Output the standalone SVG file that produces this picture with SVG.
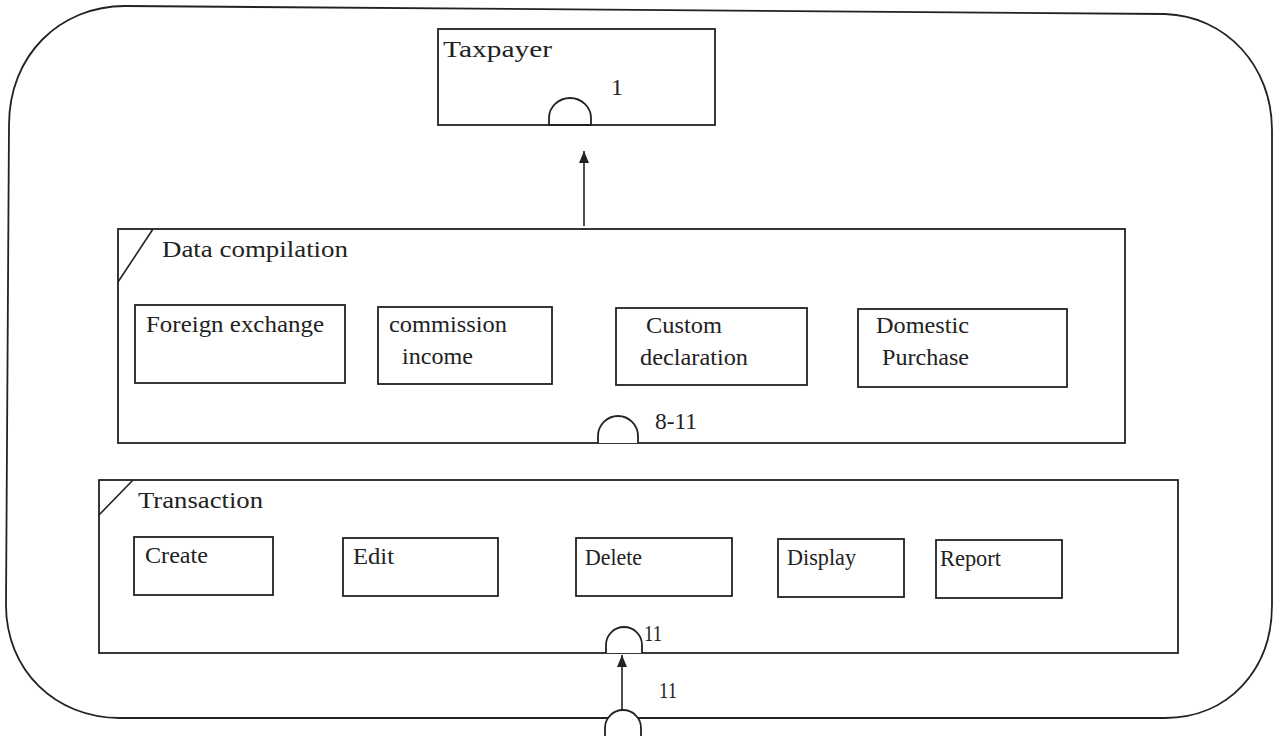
<svg xmlns="http://www.w3.org/2000/svg" width="1281" height="736" viewBox="0 0 1281 736">
  <style>
    .frame { fill: none; stroke: #222; stroke-width: 1.8; }
    .box { fill: #fff; stroke: #222; stroke-width: 1.8; }
    .cup { fill: #fff; stroke: #222; stroke-width: 1.8; }
    .wire { fill: none; stroke: #222; stroke-width: 1.6; }
    text { font-family: "Liberation Serif", "Times New Roman", serif; font-size: 24px; fill: #222; }
  </style>
  <defs>
    <marker id="head" viewBox="0 0 12 10" refX="12" refY="5" markerWidth="12" markerHeight="10" markerUnits="userSpaceOnUse" orient="auto">
      <path d="M0,0 L12,5 L0,10 Z" fill="#222"/>
    </marker>
  </defs>

  <!-- outer system boundary -->
  <path id="system" class="frame" d="M 9,125 C 9,55 60,6 125,6 L 1165,14 C 1226,16 1272,66 1272,130 L 1272,605 C 1272,670 1228,718 1165,718 L 120,718 C 55,718 6,670 6,605 Z"/>

  <!-- Taxpayer -->
  <g id="taxpayer">
    <rect class="box" x="438" y="29" width="277" height="96"/>
    <path class="cup" d="M549,125 L549,118 A21,20 0 0 1 591,118 L591,125 Z"/>
    <text x="443" y="57" textLength="109" lengthAdjust="spacingAndGlyphs">Taxpayer</text>
    <text x="611" y="95">1</text>
  </g>

  <!-- Data compilation -->
  <g id="data-compilation">
    <rect class="box" x="118" y="229" width="1007" height="214"/>
    <line class="wire" x1="153" y1="229" x2="118" y2="282"/>
    <text x="162" y="257" textLength="186" lengthAdjust="spacingAndGlyphs">Data compilation</text>
    <path class="cup" d="M598,443 L598,436 A20,20 0 0 1 638,436 L638,443"/>
    <text x="655" y="429" textLength="42" lengthAdjust="spacingAndGlyphs">8-11</text>
  </g>
  <g id="foreign-exchange">
    <rect class="box" x="135" y="305" width="210" height="78"/>
    <text x="146" y="332" textLength="178" lengthAdjust="spacingAndGlyphs">Foreign exchange</text>
  </g>
  <g id="commission-income">
    <rect class="box" x="378" y="307" width="174" height="77"/>
    <text x="389" y="332" textLength="118" lengthAdjust="spacingAndGlyphs">commission</text>
    <text x="402" y="364" textLength="71" lengthAdjust="spacingAndGlyphs">income</text>
  </g>
  <g id="custom-declaration">
    <rect class="box" x="616" y="308" width="191" height="77"/>
    <text x="646" y="333" textLength="76" lengthAdjust="spacingAndGlyphs">Custom</text>
    <text x="640" y="365" textLength="108" lengthAdjust="spacingAndGlyphs">declaration</text>
  </g>
  <g id="domestic-purchase">
    <rect class="box" x="858" y="309" width="209" height="78"/>
    <text x="876" y="333" textLength="93" lengthAdjust="spacingAndGlyphs">Domestic</text>
    <text x="882" y="365" textLength="87" lengthAdjust="spacingAndGlyphs">Purchase</text>
  </g>

  <!-- Transaction -->
  <g id="transaction">
    <rect class="box" x="99" y="480" width="1079" height="173"/>
    <line class="wire" x1="133" y1="480" x2="99" y2="515"/>
    <text x="138" y="508" textLength="125" lengthAdjust="spacingAndGlyphs">Transaction</text>
    <path class="cup" d="M606,653 L606,645 A18,18 0 0 1 642,645 L642,653"/>
    <text x="644" y="641" textLength="18" lengthAdjust="spacingAndGlyphs">11</text>
  </g>
  <g id="create">
    <rect class="box" x="134" y="537" width="139" height="58"/>
    <text x="145" y="563" textLength="63" lengthAdjust="spacingAndGlyphs">Create</text>
  </g>
  <g id="edit">
    <rect class="box" x="343" y="538" width="155" height="58"/>
    <text x="353" y="564" textLength="41" lengthAdjust="spacingAndGlyphs">Edit</text>
  </g>
  <g id="delete">
    <rect class="box" x="576" y="538" width="156" height="58"/>
    <text x="585" y="565" textLength="57" lengthAdjust="spacingAndGlyphs">Delete</text>
  </g>
  <g id="display">
    <rect class="box" x="778" y="539" width="126" height="58"/>
    <text x="787" y="565" textLength="69" lengthAdjust="spacingAndGlyphs">Display</text>
  </g>
  <g id="report">
    <rect class="box" x="936" y="540" width="126" height="58"/>
    <text x="940" y="566" textLength="61" lengthAdjust="spacingAndGlyphs">Report</text>
  </g>

  <!-- entry port on the system boundary -->
  <g id="entry-port">
    <path class="cup" d="M605,740 L605,728 A18,18 0 0 1 641,728 L641,740"/>
    <text x="659" y="698" textLength="18" lengthAdjust="spacingAndGlyphs">11</text>
  </g>

  <!-- connectors -->
  <g id="connectors">
    <line class="wire" x1="584" y1="226" x2="584" y2="151" marker-end="url(#head)"/>
    <line class="wire" x1="622" y1="710" x2="622" y2="655" marker-end="url(#head)"/>
  </g>
</svg>
